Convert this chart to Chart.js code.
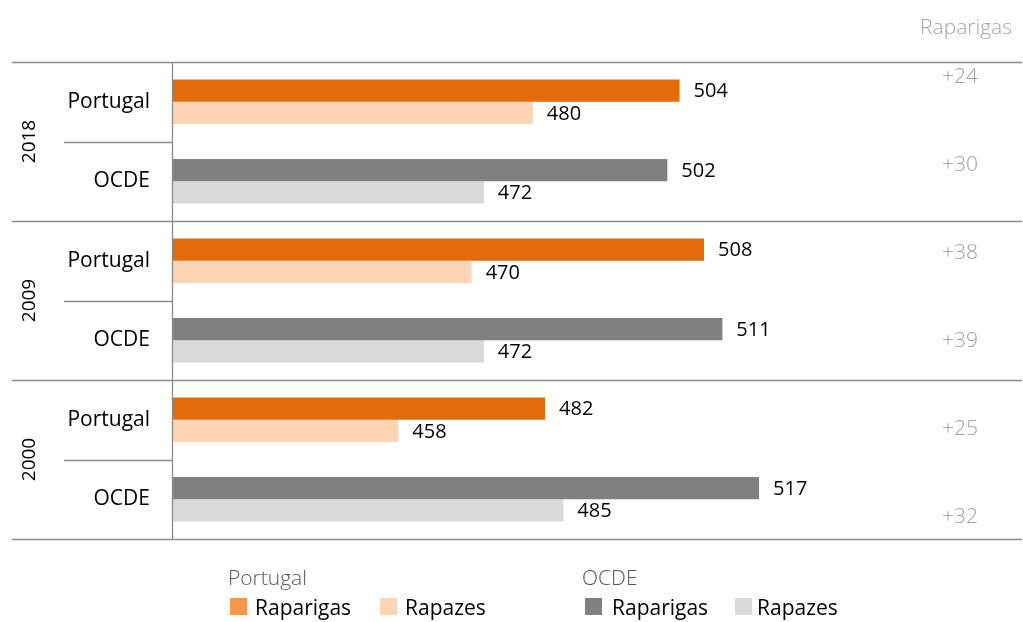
<!DOCTYPE html>
<html>
<head>
<meta charset="utf-8">
<script src="https://cdn.jsdelivr.net/npm/chart.js@4"></script>
<style>
  html,body{margin:0;padding:0;background:#fff;}
  #wrap{position:relative;width:1023px;height:622px;font-family:"Open Sans","Noto Sans",sans-serif;}
  canvas{position:absolute;left:0;top:0;}
  .lg{position:absolute;font-size:21px;white-space:nowrap;line-height:1;}
  .ttl{color:#595959;font-weight:300;}
  .itm{color:#000;}
  .box{position:absolute;width:17px;height:17px;}
  #topTitle{position:absolute;right:11px;top:16px;font-size:21px;line-height:1;color:#a6a6a6;font-weight:300;}
</style>
</head>
<body>
<div id="wrap">
  <canvas id="c" width="1023" height="622"></canvas>
  <div id="topTitle">Raparigas</div>
  <div class="lg ttl" style="left:228px;top:567px;">Portugal</div>
  <div class="box" style="left:230px;top:598px;background:#F79646;"></div>
  <div class="lg itm" style="left:255px;top:597px;">Raparigas</div>
  <div class="box" style="left:380px;top:598px;background:#FCD5B5;"></div>
  <div class="lg itm" style="left:405px;top:597px;">Rapazes</div>
  <div class="lg ttl" style="left:582px;top:567px;">OCDE</div>
  <div class="box" style="left:585px;top:598px;background:#808080;"></div>
  <div class="lg itm" style="left:612px;top:597px;">Raparigas</div>
  <div class="box" style="left:735px;top:598px;background:#D9D9D9;"></div>
  <div class="lg itm" style="left:757px;top:597px;">Rapazes</div>
</div>
<script>
const categories = ["Portugal", "OCDE", "Portugal", "OCDE", "Portugal", "OCDE"];
const years = ["2018", "2009", "2000"];
const raparigas = [504, 502, 508, 511, 482, 517];
const rapazes = [480, 472, 470, 472, 458, 485];
const diffLabels = ["+24", "+30", "+38", "+39", "+25", "+32"];

const girlColors = ["#E36C0A", "#808080", "#E36C0A", "#808080", "#E36C0A", "#808080"];
const boyColors = ["#FCD5B5", "#D9D9D9", "#FCD5B5", "#D9D9D9", "#FCD5B5", "#D9D9D9"];

const FONT = '"Open Sans","Noto Sans",sans-serif';

const custom = {
  id: 'custom',
  afterDraw(chart) {
    const ctx = chart.ctx;
    const ca = chart.chartArea;
    const y = chart.scales.y;
    const step = (y.getPixelForValue(1) - y.getPixelForValue(0));
    ctx.save();
    ctx.strokeStyle = '#8c8c8c';
    ctx.lineWidth = 1.3;
    for (let g = 0; g <= years.length; g++) {
      const yy = Math.round(y.getPixelForValue(g * 2) - step / 2) + 0.5;
      ctx.beginPath();
      ctx.moveTo(12, yy);
      ctx.lineTo(ca.right, yy);
      ctx.stroke();
    }
    for (let g = 0; g < years.length; g++) {
      const yy = Math.round(y.getPixelForValue(g * 2) + step / 2) + 0.5;
      ctx.beginPath();
      ctx.moveTo(64, yy);
      ctx.lineTo(ca.left, yy);
      ctx.stroke();
    }
    ctx.beginPath();
    ctx.moveTo(ca.left + 0.5, ca.top);
    ctx.lineTo(ca.left + 0.5, ca.bottom);
    ctx.stroke();
    ctx.fillStyle = '#000';
    ctx.font = '19px ' + FONT;
    ctx.textAlign = 'center';
    ctx.textBaseline = 'middle';
    for (let g = 0; g < years.length; g++) {
      const yy = (y.getPixelForValue(g * 2) + y.getPixelForValue(g * 2 + 1)) / 2;
      ctx.save();
      ctx.translate(30, yy);
      ctx.rotate(-Math.PI / 2);
      ctx.fillText(years[g], 0, 0);
      ctx.restore();
    }
    ctx.textAlign = 'left';
    ctx.font = '20px ' + FONT;
    chart.data.datasets.forEach((ds, di) => {
      const meta = chart.getDatasetMeta(di);
      meta.data.forEach((bar, i) => {
        ctx.fillText(String(ds.data[i]), bar.x + 14, bar.y + 1);
      });
    });
    ctx.fillStyle = '#a0a0a0';
    ctx.font = '300 21px ' + FONT;
    ctx.textAlign = 'center';
    const top = ca.top + 15, bot = ca.bottom - 22;
    diffLabels.forEach((t, i) => {
      ctx.fillText(t, 960, top + i * (bot - top) / (diffLabels.length - 1));
    });
    ctx.restore();
  }
};

new Chart(document.getElementById('c'), {
  type: 'bar',
  data: {
    labels: categories,
    datasets: [
      { label: 'Raparigas', data: raparigas, backgroundColor: girlColors, borderWidth: 0 },
      { label: 'Rapazes', data: rapazes, backgroundColor: boyColors, borderWidth: 0 }
    ]
  },
  options: {
    indexAxis: 'y',
    responsive: false,
    animation: false,
    events: [],
    layout: { padding: { left: 12, right: 1, top: 62, bottom: 83 } },
    plugins: { legend: { display: false }, tooltip: { enabled: false } },
    datasets: { bar: { categoryPercentage: 0.56, barPercentage: 1.0 } },
    scales: {
      x: { display: false, min: 421, max: 560 },
      y: {
        grid: { display: false, drawTicks: false },
        border: { display: false },
        ticks: { color: '#000', font: { size: 21, family: FONT }, padding: 22 },
        afterFit(s) { s.width = 160; }
      }
    }
  },
  plugins: [custom]
});
</script>
</body>
</html>
